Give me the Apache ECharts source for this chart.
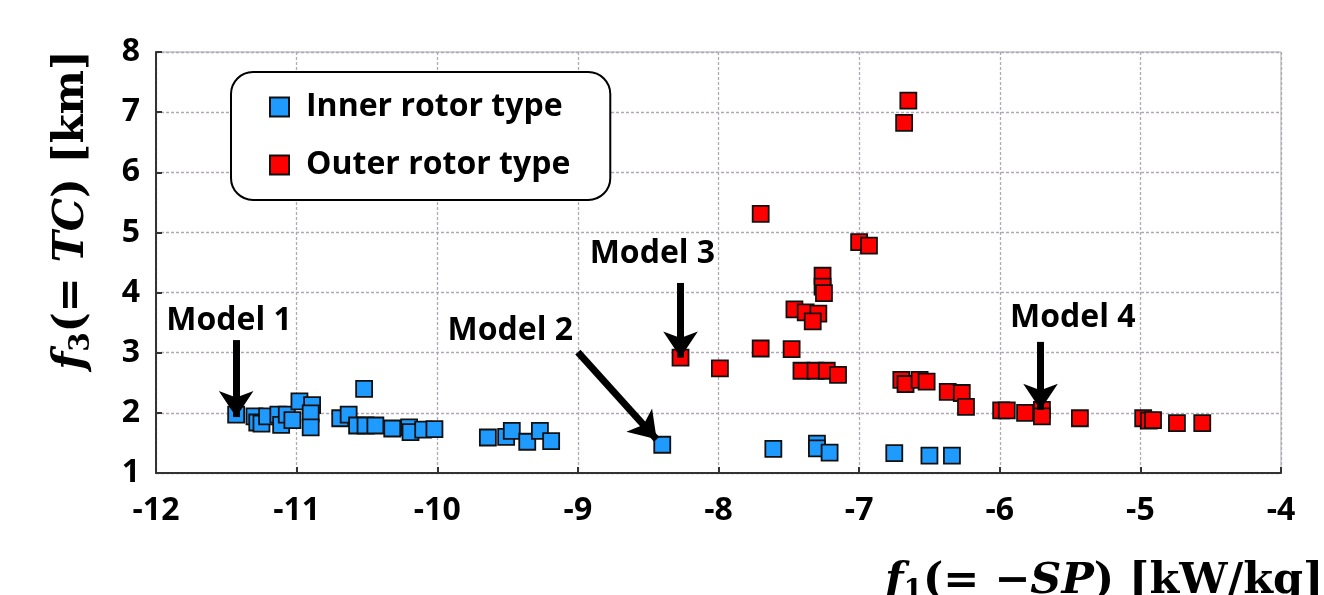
<!DOCTYPE html>
<html><head><meta charset="utf-8">
<script src="https://cdn.jsdelivr.net/npm/echarts@6/dist/echarts.min.js"></script>
<style>html,body{margin:0;padding:0;background:#fff}#c{width:1324px;height:595px}</style>
</head><body><div id="c"></div>
<script>
const xTicks = [-12,-11,-10,-9,-8,-7,-6,-5,-4];
const yTicks = [1,2,3,4,5,6,7,8];
const innerRotor = [
  [-11.43,1.97],[-11.30,1.94],[-11.28,1.84],[-11.25,1.82],[-11.21,1.94],[-11.13,1.97],[-11.11,1.80],
  [-11.07,1.97],[-11.03,1.88],[-10.98,2.19],[-10.89,2.13],[-10.90,1.99],[-10.90,1.76],[-10.69,1.91],
  [-10.63,1.97],[-10.52,2.40],[-10.57,1.79],[-10.51,1.79],[-10.44,1.79],[-10.32,1.74],[-10.20,1.76],
  [-10.19,1.68],[-10.10,1.72],[-10.02,1.73],[-9.64,1.59],[-9.51,1.60],[-9.47,1.70],[-9.36,1.52],
  [-9.27,1.70],[-9.19,1.53],[-8.40,1.47],[-7.61,1.40],[-7.30,1.49],[-7.30,1.41],[-7.21,1.34],
  [-6.75,1.33],[-6.50,1.29],[-6.34,1.29]
];
const outerRotor = [
  [-8.27,2.92],[-7.99,2.74],[-7.70,5.31],[-7.70,3.07],[-7.48,3.06],[-7.46,3.72],[-7.38,3.67],
  [-7.29,3.65],[-7.33,3.52],[-7.26,4.28],[-7.26,4.10],[-7.25,3.99],[-7.41,2.70],[-7.31,2.70],
  [-7.23,2.70],[-7.15,2.63],[-7.00,4.84],[-6.93,4.78],[-6.68,6.82],[-6.65,7.19],[-6.70,2.55],
  [-6.67,2.48],[-6.57,2.55],[-6.52,2.52],[-6.37,2.35],[-6.27,2.33],[-6.24,2.10],[-5.99,2.04],
  [-5.95,2.04],[-5.82,2.00],[-5.70,2.05],[-5.70,1.94],[-5.43,1.91],[-4.98,1.91],[-4.94,1.87],
  [-4.91,1.88],[-4.74,1.83],[-4.56,1.83]
];
const modelNames = ['Model 1','Model 2','Model 3','Model 4'];
const modelLabelPos = [[-11.48,3.53],[-9.48,3.36],[-8.47,4.64],[-5.48,3.58]];
const arrowFrom = [[-11.43,3.21],[-9.00,3.01],[-8.27,4.16],[-5.71,3.18]];
const arrowTo = [[-11.43,1.93],[-8.44,1.56],[-8.27,2.92],[-5.71,2.05]];

const chart = echarts.init(document.getElementById('c'));
const F = "'Open Sans','Noto Sans',sans-serif";
const serif = "'DejaVu Serif','Liberation Serif',serif";
const axisLbl = {color:'#000', fontFamily:F, fontWeight:'bold', fontSize:32};
chart.setOption({
  animation:false,
  grid:{left:156,right:43,top:52,bottom:122,show:true,borderColor:'#aaa',borderWidth:1},
  xAxis:{type:'value',min:xTicks[0],max:xTicks[xTicks.length-1],interval:1,
    axisLine:{onZero:false,lineStyle:{color:'#333',width:2}},
    axisTick:{inside:true,length:6,lineStyle:{color:'#333',width:2}},
    axisLabel:Object.assign({margin:22},axisLbl),
    splitLine:{show:true,lineStyle:{color:'#b0a8b8',type:[3,2],width:1.3}}},
  yAxis:{type:'value',min:yTicks[0],max:yTicks[yTicks.length-1],interval:1,
    axisLine:{show:true,onZero:false,lineStyle:{color:'#333',width:2}},
    axisTick:{show:true,inside:true,length:6,lineStyle:{color:'#333',width:2}},
    axisLabel:Object.assign({margin:16},axisLbl),
    splitLine:{show:true,lineStyle:{color:'#b0a8b8',type:[3,2],width:1.3}}},
  legend:{data:['Inner rotor type','Outer rotor type'],orient:'vertical',left:231,top:72,
    padding:[19,40,19,38],itemGap:26,itemWidth:19,itemHeight:19,
    borderColor:'#000',borderWidth:2,borderRadius:22,backgroundColor:'#fff',
    textStyle:{color:'#000',fontFamily:F,fontWeight:'bold',fontSize:32,padding:[0,0,0,12]},
    icon:'rect'},
  series:[
    {name:'Inner rotor type',type:'scatter',symbol:'rect',symbolSize:16,data:innerRotor,
      itemStyle:{color:'#1f9bff',borderColor:'#111',borderWidth:1.8,opacity:1}},
    {name:'Outer rotor type',type:'scatter',symbol:'rect',symbolSize:16,data:outerRotor,
      itemStyle:{color:'#ff0000',borderColor:'#111',borderWidth:1.8,opacity:1}},
    {name:'annot',type:'scatter',symbolSize:1,silent:true,z:10,
      itemStyle:{color:'rgba(0,0,0,0)'},
      data:modelLabelPos.map((p,i)=>({value:p,name:modelNames[i]})),
      label:{show:true,position:'inside',formatter:'{b}',color:'#000',opacity:1,fontFamily:F,fontWeight:'bold',fontSize:32},
      markLine:{silent:true,symbol:['none','arrow'],symbolSize:[26,26],precision:4,
        lineStyle:{color:'#000',width:7,type:'solid',opacity:1},label:{show:false},
        data:arrowFrom.map((p,i)=>[{coord:p},{coord:arrowTo[i]}])}}
  ],
  graphic:[
    {type:'text',x:72,y:210,rotation:Math.PI/2,style:{
      text:'{i|f}{s|3}{n|(= }{i|TC}{n|) [km]}',align:'center',verticalAlign:'middle',
      rich:{i:{fontFamily:serif,fontStyle:'italic',fontWeight:'bold',fontSize:42,fill:'#000'},
            s:{fontFamily:serif,fontSize:28,fontWeight:'bold',padding:[20,0,0,0],fill:'#000'},
            n:{fontFamily:serif,fontWeight:'bold',fontSize:42,fill:'#000'}}}},
    {type:'text',x:885,y:582,style:{
      text:'{i|f}{s|1}{n|(= −}{i|SP}{n|) [kW/kg]}',align:'left',verticalAlign:'middle',
      rich:{i:{fontFamily:serif,fontStyle:'italic',fontWeight:'bold',fontSize:43,fill:'#000'},
            s:{fontFamily:serif,fontSize:28,fontWeight:'bold',padding:[20,0,0,0],fill:'#000'},
            n:{fontFamily:serif,fontWeight:'bold',fontSize:43,fill:'#000'}}}}
  ]
});
</script></body></html>
